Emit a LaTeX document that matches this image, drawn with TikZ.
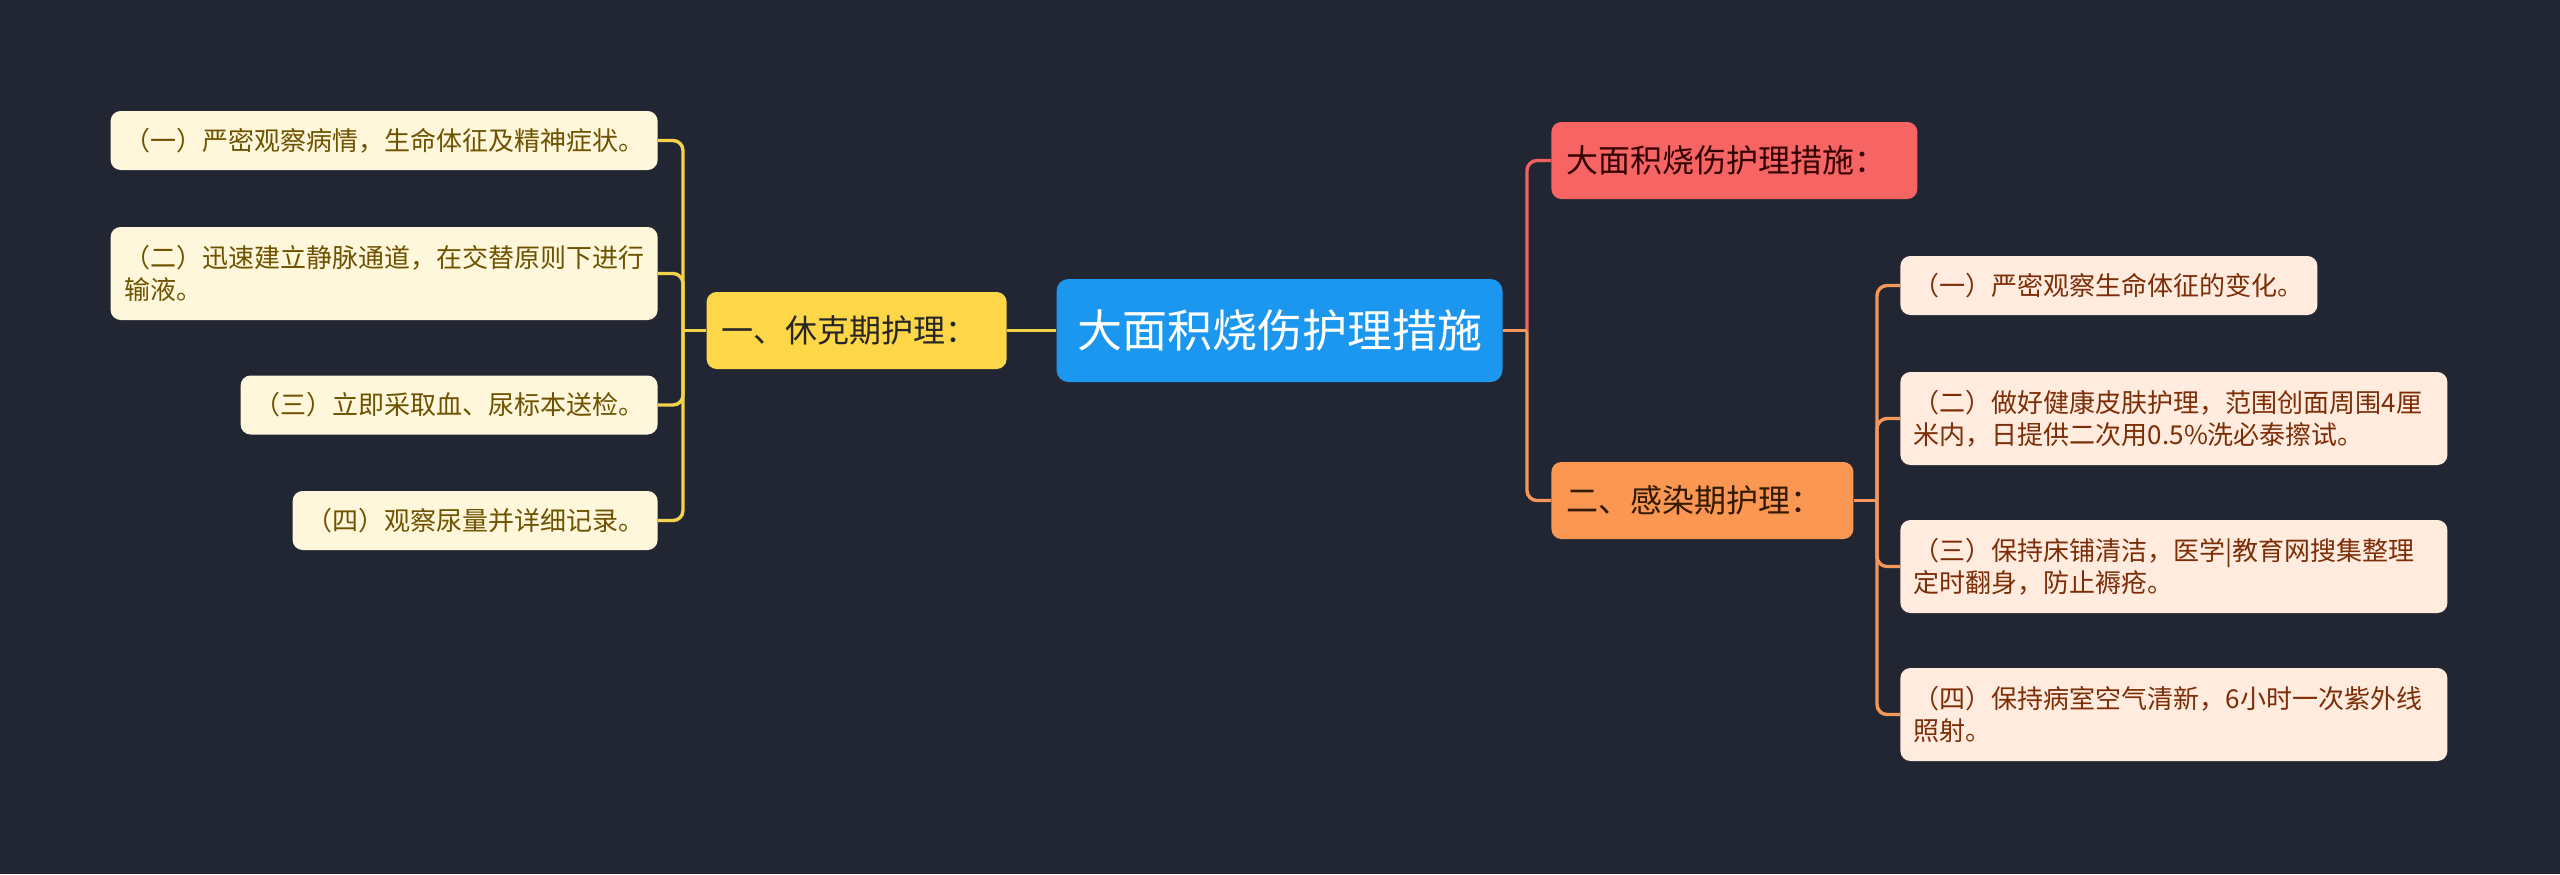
\documentclass[tikz,border=0pt]{standalone}
\usepackage{fontspec}
\newfontfamily\cjk{Noto Sans CJK SC}
\definecolor{bgnavy}{HTML}{222632}
\definecolor{rootblue}{HTML}{1C97F0}
\definecolor{yfill}{HTML}{FDD748}
\definecolor{yline}{HTML}{F4D24B}
\definecolor{cream}{HTML}{FFF7DB}
\definecolor{olive}{HTML}{6E5200}
\definecolor{rfill}{HTML}{F76464}
\definecolor{rline}{HTML}{F06262}
\definecolor{ofill}{HTML}{FA9853}
\definecolor{oline}{HTML}{F5975A}
\definecolor{peach}{HTML}{FFECDF}
\definecolor{rust}{HTML}{7D2D06}
\begin{document}
\begin{tikzpicture}[x=0.5pt,y=-0.5pt,
  leaf/.style={rounded corners=5pt, inner xsep=6.75pt, inner ysep=0pt,
    font=\cjk\fontsize{13pt}{16pt}\selectfont},
  leafone/.style={leaf, minimum height=29.5pt},
  leaftwo/.style={leaf, minimum height=46.5pt, text width=260pt, align=left},
  branchbox/.style={rounded corners=5pt, inner xsep=7.5pt, inner ysep=0pt,
    minimum height=38.5pt, align=left, font=\cjk\fontsize{16pt}{19pt}\selectfont},
  link/.style={line width=1.7pt, rounded corners=5pt}]
\fill[bgnavy] (0,0) rectangle (2560,874);
\useasboundingbox (0,0) rectangle (2560,874);
% centre
\node[fill=rootblue, text=white, rounded corners=6pt, minimum width=223pt,
  minimum height=51.5pt, inner sep=0pt, font=\cjk\fontsize{22.5pt}{26pt}\selectfont]
  (root) at (1279.5,330.5) {大面积烧伤护理措施};
% left branch
\node[branchbox, fill=yfill, text=black!85, text width=135pt, anchor=east]
  (shock) at (1007,330.5) {一、休克期护理：};
\node[leafone, fill=cream, text=olive, anchor=east] (s1) at (658,140.5)
  {（一）严密观察病情，生命体征及精神症状。};
\node[leaftwo, fill=cream, text=olive, anchor=east] (s2) at (658,273.5)
  {（二）迅速建立静脉通道，在交替原则下进行\\输液。};
\node[leafone, fill=cream, text=olive, anchor=east] (s3) at (658,405)
  {（三）立即采取血、尿标本送检。};
\node[leafone, fill=cream, text=olive, anchor=east] (s4) at (658,520.5)
  {（四）观察尿量并详细记录。};
% right branches
\node[branchbox, fill=rfill, text=black!80!red, text width=168pt, anchor=west]
  (title) at (1551,160.5) {大面积烧伤护理措施：};
\node[branchbox, fill=ofill, text=black!80!orange, text width=136pt, anchor=west]
  (infect) at (1551,500.5) {二、感染期护理：};
\node[leafone, fill=peach, text=rust, anchor=west] (i1) at (1900,285.5)
  {（一）严密观察生命体征的变化。};
\node[leaftwo, fill=peach, text=rust, anchor=west] (i2) at (1900,418.5)
  {（二）做好健康皮肤护理，范围创面周围4厘\\米内，日提供二次用0.5\%洗必泰擦试。};
\node[leaftwo, fill=peach, text=rust, anchor=west] (i3) at (1900,566.5)
  {（三）保持床铺清洁，医学|教育网搜集整理\\定时翻身，防止褥疮。};
\node[leaftwo, fill=peach, text=rust, anchor=west] (i4) at (1900,714.5)
  {（四）保持病室空气清新，6小时一次紫外线\\照射。};
% connectors
\coordinate (ls) at (683,330.5);
\coordinate (rs) at (1527,330.5);
\coordinate (os) at (1877,500.5);
\draw[link, yline] (root.west) -- (shock.east);
\draw[link, yline] (shock.west) -- (ls);
\foreach \n in {s1,s2,s3,s4}
  \draw[link, yline] (ls) |- (\n.east);
\draw[link, rline] (rs) |- (title.west);
\draw[link, oline] (root.east) -- (rs);
\draw[link, oline] (rs) |- (infect.west);
\draw[link, oline] (infect.east) -- (os);
\foreach \n in {i1,i2,i3,i4}
  \draw[link, oline] (os) |- (\n.west);
\end{tikzpicture}
\end{document}
